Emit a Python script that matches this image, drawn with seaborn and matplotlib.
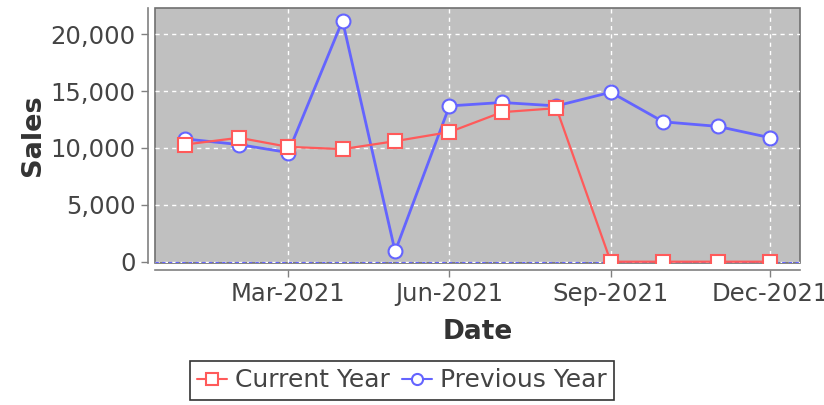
import pandas as pd
import matplotlib.pyplot as plt
import matplotlib.dates as mdates
import matplotlib.ticker as mticker
import seaborn as sns

# Monthly sales values
months = pd.date_range("2021-01-01", "2021-12-01", freq="MS")
current_year = [10300, 10900, 10100, 9900, 10600, 11400, 13150, 13500, 0, 0, 0, 0]
previous_year = [10800, 10300, 9600, 21200, 900, 13700, 14000, 13700, 14900, 12300, 11900, 10900]

df_cur = pd.DataFrame({"Date": months, "Sales": current_year})
df_prev = pd.DataFrame({"Date": months, "Sales": previous_year})

red = "#FF5A5A"
blue = "#6464FF"

sns.set_style("white")
plt.rcParams["font.family"] = ["DejaVu Sans"]

fig = plt.figure(figsize=(8.24, 4.05), dpi=100)
ax = fig.add_axes([0.188, 0.351, 0.783, 0.629])
ax.set_facecolor("#C0C0C0")
ax.patch.set_edgecolor("#707070")
ax.patch.set_linewidth(1.2)

# previous year drawn first so current year squares sit on top
sns.lineplot(data=df_prev, x="Date", y="Sales", ax=ax, color=blue, lw=2,
             marker="o", markersize=10, markerfacecolor="white",
             markeredgecolor=blue, markeredgewidth=1.5, label="Previous Year")
sns.lineplot(data=df_cur, x="Date", y="Sales", ax=ax, color=red, lw=1.6,
             marker="s", markersize=10, markerfacecolor="white",
             markeredgecolor=red, markeredgewidth=1.5, label="Current Year")

ax.axhline(0, color=blue, lw=0.8, ls=(0, (3, 3)), zorder=1)

ax.set_xlim(pd.Timestamp("2020-12-15"), pd.Timestamp("2021-12-18"))
ax.set_ylim(-100, 22300)
ax.set_yticks([0, 5000, 10000, 15000, 20000])
ax.yaxis.set_major_formatter(mticker.StrMethodFormatter("{x:,.0f}"))
ax.xaxis.set_major_locator(mdates.MonthLocator(bymonth=[3, 6, 9, 12]))
ax.xaxis.set_major_formatter(mdates.DateFormatter("%b-%Y"))

ax.grid(True, color="white", ls=(0, (3, 3)), lw=1)
ax.set_axisbelow(True)

for s in ["top", "right"]:
    ax.spines[s].set_visible(False)
for s in ["left", "bottom"]:
    ax.spines[s].set_position(("outward", 5))
    ax.spines[s].set_color("#808080")
    ax.spines[s].set_linewidth(1.2)

ax.tick_params(axis="both", labelsize=17.5, colors="#444444", length=5,
               width=1, direction="out", left=True, bottom=True, pad=4)
ax.tick_params(axis="both", color="#808080")
ax.set_xlabel("Date", fontsize=19, fontweight="bold", color="#333333", labelpad=9)
ax.set_ylabel("Sales", fontsize=19.5, fontweight="bold", color="#333333", labelpad=3)

handles, labels = ax.get_legend_handles_labels()
leg = ax.legend(handles[::-1], labels[::-1], loc="upper left",
                bbox_to_anchor=(35 / 645, -0.385),
                ncol=2, fontsize=18, frameon=True, fancybox=False,
                handlelength=1.2, handletextpad=0.3, columnspacing=0.5,
                borderpad=0.3, borderaxespad=0)
leg.get_frame().set_edgecolor("black")
leg.get_frame().set_linewidth(1.2)
for t in leg.get_texts():
    t.set_color("#444444")
for h in leg.legend_handles:
    h.set_markersize(8)
    h.set_linewidth(1.5)

fig.savefig("out.png", dpi=100)
